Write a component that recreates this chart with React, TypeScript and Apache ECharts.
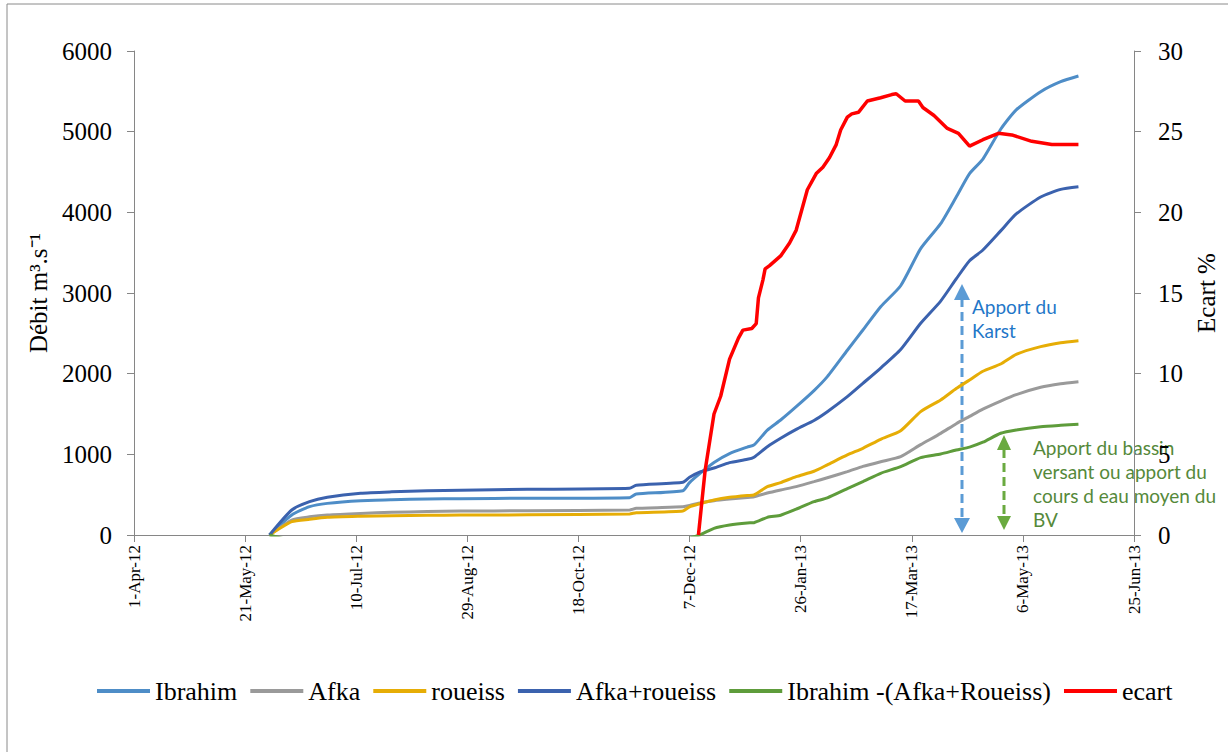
import React, { useEffect, useRef } from "react";
import * as echarts from "echarts";

const flowDates = [
  "2012-06-01", "2012-06-11", "2012-06-19", "2012-06-27", "2012-07-12", "2012-07-26",
  "2012-08-11", "2012-08-26", "2012-09-25", "2012-11-10", "2012-11-13", "2012-12-04",
  "2012-12-07", "2012-12-12", "2012-12-18", "2012-12-25", "2013-01-02", "2013-01-05",
  "2013-01-11", "2013-01-17", "2013-01-24", "2013-02-01", "2013-02-07", "2013-02-16",
  "2013-02-23", "2013-03-03", "2013-03-12", "2013-03-21", "2013-03-30", "2013-04-06",
  "2013-04-12", "2013-04-18", "2013-04-26", "2013-05-03", "2013-05-14", "2013-05-23",
  "2013-05-31",
];
const ibrahim = [0, 248, 351, 392, 425, 437, 446, 450, 456, 463, 508, 549, 650, 770, 900, 1010, 1090, 1116, 1300, 1426, 1591, 1790, 1963, 2290, 2541, 2830, 3090, 3550, 3860, 4190, 4480, 4660, 5030, 5270, 5496, 5620, 5690];
const afka = [0, 186, 225, 248, 268, 281, 290, 296, 301, 310, 331, 351, 365, 400, 425, 445, 465, 475, 520, 558, 600, 661, 710, 785, 850, 909, 971, 1120, 1260, 1380, 1470, 1560, 1660, 1740, 1831, 1875, 1901];
const roueiss = [0, 165, 195, 219, 232, 240, 244, 247, 250, 260, 277, 298, 350, 390, 434, 467, 490, 496, 599, 650, 723, 790, 870, 992, 1075, 1186, 1293, 1530, 1674, 1815, 1922, 2030, 2120, 2240, 2335, 2384, 2409];
const afkaRoueiss = [0, 310, 413, 467, 517, 535, 549, 556, 566, 579, 616, 653, 715, 785, 830, 897, 938, 965, 1095, 1200, 1310, 1420, 1529, 1715, 1880, 2070, 2300, 2625, 2900, 3175, 3400, 3533, 3770, 3980, 4190, 4285, 4318];
const difference = [0, -62, -62, -75, -92, -98, -103, -106, -110, -116, -108, -104, -40, 5, 83, 124, 150, 153, 219, 245, 320, 413, 460, 575, 661, 765, 847, 960, 1004, 1054, 1090, 1150, 1261, 1302, 1343, 1360, 1372];

const ecartDates = [
  "2012-12-11", "2012-12-14", "2012-12-18", "2012-12-21", "2012-12-25", "2012-12-29", "2012-12-31",
  "2013-01-04", "2013-01-06", "2013-01-07", "2013-01-09", "2013-01-10", "2013-01-12", "2013-01-17",
  "2013-01-21", "2013-01-24", "2013-01-29", "2013-02-02", "2013-02-05", "2013-02-08", "2013-02-11",
  "2013-02-13", "2013-02-16", "2013-02-18", "2013-02-21", "2013-02-25", "2013-03-03", "2013-03-08",
  "2013-03-10", "2013-03-14", "2013-03-20", "2013-03-22", "2013-03-27", "2013-04-02", "2013-04-07",
  "2013-04-12", "2013-04-18", "2013-04-25", "2013-05-01", "2013-05-10", "2013-05-19", "2013-05-31",
];
const ecart = [0, 4.0, 7.5, 8.6, 10.9, 12.2, 12.7, 12.8, 13.1, 14.7, 15.8, 16.5, 16.7, 17.3, 18.1, 18.9, 21.4, 22.4, 22.8, 23.4, 24.2, 25.1, 25.9, 26.1, 26.2, 26.9, 27.1, 27.3, 27.35, 26.9, 26.9, 26.5, 26.0, 25.2, 24.9, 24.1, 24.5, 24.9, 24.8, 24.4, 24.2, 24.2];

const seriesNames = ["Ibrahim", "Afka", "roueiss", "Afka+roueiss", "Ibrahim -(Afka+Roueiss)", "ecart"];
const seriesColors = ["#4E8DC7", "#9A9A9A", "#E6AD06", "#3B62AE", "#5E9C3B", "#FF0000"];

const START = Date.UTC(2012, 3, 1);
const MONTHS = ["Jan", "Feb", "Mar", "Apr", "May", "Jun", "Jul", "Aug", "Sep", "Oct", "Nov", "Dec"];
const toDay = (s: string) => {
  const [y, m, d] = s.split("-").map(Number);
  return (Date.UTC(y, m - 1, d) - START) / 86400000;
};
const fmtDay = (v: number) => {
  const dt = new Date(START + v * 86400000);
  return `${dt.getUTCDate()}-${MONTHS[dt.getUTCMonth()]}-${String(dt.getUTCFullYear()).slice(2)}`;
};

const SERIF = "'Liberation Serif', 'Times New Roman', serif";
const SANS = "Lato, 'Open Sans', sans-serif";

export default function App() {
  const ref = useRef<HTMLDivElement>(null);
  useEffect(() => {
    if (!ref.current) return;
    const chart = echarts.init(ref.current, undefined, { renderer: "svg" });
    const flows = [ibrahim, afka, roueiss, afkaRoueiss, difference];
    const series: any[] = flows.map((arr, i) => ({
      name: seriesNames[i],
      type: "line",
      yAxisIndex: 0,
      showSymbol: false,
      symbol: "none",
      smooth: 0.2,
      clip: true,
      lineStyle: { width: 3, color: seriesColors[i] },
      itemStyle: { color: seriesColors[i] },
      data: flowDates.map((d, j) => [toDay(d), arr[j]]),
    }));
    series.push({
      name: seriesNames[5],
      type: "line",
      yAxisIndex: 1,
      symbol: "none",
      showSymbol: false,
      clip: true,
      lineStyle: { width: 3.5, color: seriesColors[5] },
      itemStyle: { color: seriesColors[5] },
      data: ecartDates.map((d, j) => [toDay(d), ecart[j]]),
    });

    const axisLine = { show: true, lineStyle: { color: "#868686", width: 1 } };
    const axisTick = { show: true, inside: false, length: 7, lineStyle: { color: "#868686" } };

    const blue = "#5B9BD5";
    const green = "#6AAA40";
    chart.setOption({
      animation: false,
      backgroundColor: "#fff",
      grid: { left: 134, right: 94, top: 51, bottom: 217, containLabel: false },
      legend: {
        left: 97,
        top: 678,
        padding: 0,
        icon: "rect",
        itemWidth: 53,
        itemHeight: 4,
        itemGap: 13,
        textStyle: { fontFamily: SERIF, fontSize: 26, color: "#000" },
        data: seriesNames,
      },
      xAxis: {
        type: "value",
        min: 0,
        max: 450,
        interval: 50,
        axisLine,
        axisTick,
        splitLine: { show: false },
        axisLabel: {
          rotate: 90,
          margin: 10,
          fontFamily: SERIF,
          fontSize: 17,
          color: "#000",
          formatter: (v: number) => fmtDay(v),
        },
      },
      yAxis: [
        {
          type: "value",
          min: 0,
          max: 6000,
          interval: 1000,
          axisLine,
          axisTick,
          splitLine: { show: false },
          axisLabel: { fontFamily: SERIF, fontSize: 25, color: "#000", margin: 22, formatter: (v: number) => String(v) },
          name: "Débit m³.s⁻¹",
          nameLocation: "middle",
          nameRotate: 90,
          nameGap: 72,
          nameTextStyle: { fontFamily: SERIF, fontSize: 25, color: "#000" },
        },
        {
          type: "value",
          min: 0,
          max: 30,
          interval: 5,
          position: "right",
          axisLine,
          axisTick,
          splitLine: { show: false },
          axisLabel: { fontFamily: SERIF, fontSize: 25, color: "#000", margin: 24, formatter: (v: number) => String(v) },
          name: "Ecart %",
          nameLocation: "middle",
          nameRotate: 90,
          nameGap: 60,
          nameTextStyle: { fontFamily: SERIF, fontSize: 25, color: "#000" },
        },
      ],
      graphic: [
        {
          type: "rect",
          silent: true,
          shape: { x: 7, y: 4, width: 1240, height: 770 },
          style: { fill: "none", stroke: "#8a8a8a", lineWidth: 1 },
        },
        {
          type: "line",
          shape: { x1: 962, y1: 298, x2: 962, y2: 520 },
          style: { stroke: blue, lineWidth: 3, lineDash: [9, 5] },
        },
        { type: "polygon", shape: { points: [[954, 300], [970, 300], [962, 284]] }, style: { fill: blue } },
        { type: "polygon", shape: { points: [[954, 518], [970, 518], [962, 533]] }, style: { fill: blue } },
        {
          type: "line",
          shape: { x1: 1004, y1: 449, x2: 1004, y2: 517 },
          style: { stroke: green, lineWidth: 3, lineDash: [9, 5] },
        },
        { type: "polygon", shape: { points: [[997, 450], [1011, 450], [1004, 435]] }, style: { fill: green } },
        { type: "polygon", shape: { points: [[997, 516], [1011, 516], [1004, 530]] }, style: { fill: green } },
        {
          type: "text",
          x: 972,
          y: 294,
          style: {
            text: "Apport du\nKarst",
            font: `19px ${SANS}`,
            fill: "#1F77C8",
            lineHeight: 24,
            verticalAlign: "top",
          },
        },
        {
          type: "text",
          x: 1033,
          y: 435,
          style: {
            text: "Apport du bassin\nversant ou apport du\ncours d eau moyen du\nBV",
            font: `19px ${SANS}`,
            fill: "#55893A",
            lineHeight: 24,
            verticalAlign: "top",
          },
        },
      ],
      series,
    });
    return () => chart.dispose();
  }, []);
  return (
    <div
      ref={ref}
      style={{ position: "absolute", left: 0, top: 0, width: 1228, height: 752, background: "#fff" }}
    />
  );
}
